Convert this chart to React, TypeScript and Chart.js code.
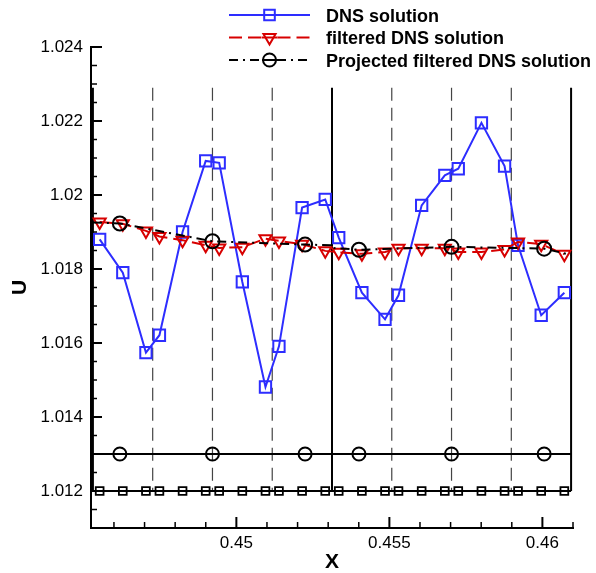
import React, { useEffect, useRef } from 'react';
import { Chart, registerables } from 'chart.js';

Chart.register(...registerables);

// ---- data ----
const dnsX = [0.445533, 0.446289, 0.447045, 0.447486, 0.448242, 0.448998, 0.449439, 0.450195, 0.450951, 0.451392, 0.452148, 0.452904, 0.453345, 0.454102, 0.454858, 0.455298, 0.456055, 0.456811, 0.457251, 0.458008, 0.458764, 0.459204, 0.459961, 0.460717];
const dnsU = [1.0188, 1.0179, 1.01574, 1.01621, 1.019, 1.02092, 1.02087, 1.01765, 1.01481, 1.01591, 1.01966, 1.01988, 1.01885, 1.01736, 1.01664, 1.01729, 1.01972, 1.02053, 1.02071, 1.02195, 1.02078, 1.01864, 1.01675, 1.01736];
const filteredU = [1.01927, 1.01922, 1.01903, 1.01888, 1.01878, 1.01864, 1.01857, 1.01859, 1.01882, 1.01876, 1.01867, 1.01849, 1.01845, 1.01841, 1.01846, 1.01856, 1.01856, 1.01856, 1.01846, 1.01846, 1.01853, 1.01873, 1.01867, 1.0184];
const projX = [0.4453125, 0.446193, 0.449219, 0.452245, 0.453125, 0.453125, 0.454006, 0.457031, 0.460057, 0.4609375];
const projU = [1.01926, 1.01923, 1.01875, 1.01866, 1.01864, 1.01857, 1.01852, 1.0186, 1.01855, 1.01838];
const projMarker = [false, true, true, true, false, false, true, true, true, false];
const gaussX = [0.446193, 0.449219, 0.452245, 0.454006, 0.457031, 0.460057];
const elementEdges = [0.4453125, 0.453125, 0.4609375];
const subEdges = [0.447266, 0.449219, 0.451172, 0.455078, 0.457031, 0.458984];
const dnsRowU = 1.012;
const gaussRowU = 1.013;
const meshTopU = 1.0229;
const meshBottomU = 1.012;

const xMin = 0.44525;
const xMax = 0.461;
const yMin = 1.011;
const yMax = 1.024;
const xTicks = [0.45, 0.455, 0.46];
const xMinorTicks = [0.446, 0.447, 0.448, 0.449, 0.451, 0.452, 0.453, 0.454, 0.456, 0.457, 0.458, 0.459, 0.461];
const yTicks = [1.012, 1.014, 1.016, 1.018, 1.02, 1.022, 1.024];
const yMinorTicks = [1.0115, 1.0125, 1.013, 1.0135, 1.0145, 1.015, 1.0155, 1.0165, 1.017, 1.0175, 1.0185, 1.019, 1.0195, 1.0205, 1.021, 1.0215, 1.0225, 1.023, 1.0235];

const legendLabels = ['DNS solution', 'filtered DNS solution', 'Projected filtered DNS solution'];

const BLUE = 'rgb(45,45,255)';
const RED = 'rgb(215,0,0)';
const BLACK = '#000';
const FONT = '"Liberation Sans", Arial, Helvetica, sans-serif';

function drawMarker(ctx: CanvasRenderingContext2D, style: string, x: number, y: number, r: number) {
  ctx.beginPath();
  if (style === 'rect') {
    const s = r * Math.SQRT1_2;
    ctx.rect(x - s, y - s, 2 * s, 2 * s);
  } else if (style === 'tri') {
    const h = r * 1.5;
    const w = r * Math.sqrt(3) / 2;
    ctx.moveTo(x - w, y - h / 3);
    ctx.lineTo(x + w, y - h / 3);
    ctx.lineTo(x, y + (2 * h) / 3);
    ctx.closePath();
  } else {
    ctx.arc(x, y, r, 0, Math.PI * 2);
  }
  ctx.stroke();
}

const axisPlugin = {
  id: 'inwardTicksAndLegend',
  afterDraw(chart: any) {
    const ctx: CanvasRenderingContext2D = chart.ctx;
    const { left, bottom } = chart.chartArea;
    const xs = chart.scales.x;
    const ys = chart.scales.y;
    ctx.save();
    ctx.strokeStyle = '#000';
    ctx.setLineDash([]);
    // x ticks (inward, upward)
    ctx.lineWidth = 2;
    xTicks.forEach((v) => {
      const px = xs.getPixelForValue(v);
      ctx.beginPath();
      ctx.moveTo(px, bottom);
      ctx.lineTo(px, bottom - 11);
      ctx.stroke();
    });
    ctx.lineWidth = 1.5;
    xMinorTicks.forEach((v) => {
      const px = xs.getPixelForValue(v);
      ctx.beginPath();
      ctx.moveTo(px, bottom);
      ctx.lineTo(px, bottom - 6);
      ctx.stroke();
    });
    // y ticks (inward, rightward)
    ctx.lineWidth = 2;
    yTicks.forEach((v) => {
      const py = ys.getPixelForValue(v);
      ctx.beginPath();
      ctx.moveTo(left, py);
      ctx.lineTo(left + 11, py);
      ctx.stroke();
    });
    ctx.lineWidth = 1.5;
    yMinorTicks.forEach((v) => {
      const py = ys.getPixelForValue(v);
      ctx.beginPath();
      ctx.moveTo(left, py);
      ctx.lineTo(left + 6, py);
      ctx.stroke();
    });

    // legend
    const entries = [
      { color: BLUE, dash: [] as number[], style: 'rect', r: 7.5, y: 15 },
      { color: RED, dash: [13, 6], style: 'tri', r: 7, y: 37.5 },
      { color: BLACK, dash: [9, 5, 2, 5], style: 'circ', r: 6.5, y: 60 },
    ];
    const x0 = 229;
    const x1 = 310;
    const xm = 269.5;
    entries.forEach((e, i) => {
      ctx.strokeStyle = e.color;
      ctx.lineWidth = 2;
      ctx.setLineDash(e.dash);
      ctx.beginPath();
      ctx.moveTo(x0, e.y);
      ctx.lineTo(xm - e.r - 1, e.y);
      ctx.stroke();
      ctx.beginPath();
      ctx.moveTo(xm + e.r + 1, e.y);
      ctx.lineTo(x1, e.y);
      ctx.stroke();
      ctx.setLineDash([]);
      ctx.beginPath();
      ctx.moveTo(xm - e.r - 1, e.y);
      ctx.lineTo(xm + e.r + 1, e.y);
      ctx.stroke();
      drawMarker(ctx, e.style, xm, e.y, e.r);
      ctx.fillStyle = '#000';
      ctx.font = `bold 18px ${FONT}`;
      ctx.textAlign = 'left';
      ctx.textBaseline = 'alphabetic';
      ctx.fillText(legendLabels[i], 326, e.y + 6.5);
    });
    ctx.restore();
  },
};

function meshLine(x: number, dashed: boolean) {
  return {
    label: 'mesh',
    data: [
      { x, y: meshTopU },
      { x, y: meshBottomU },
    ],
    borderColor: dashed ? '#444' : '#000',
    borderWidth: dashed ? 1.2 : 2,
    borderDash: dashed ? [13, 7] : [],
    pointRadius: 0,
    order: 10,
  };
}

export default function App() {
  const ref = useRef<HTMLCanvasElement>(null);
  useEffect(() => {
    if (!ref.current) return;
    const datasets: any[] = [];
    elementEdges.forEach((x) => datasets.push(meshLine(x, false)));
    subEdges.forEach((x) => datasets.push(meshLine(x, true)));

    datasets.push({
      label: 'DNS row',
      data: [{ x: elementEdges[0], y: dnsRowU }, ...dnsX.map((x) => ({ x, y: dnsRowU })), { x: elementEdges[2], y: dnsRowU }],
      borderColor: BLACK,
      borderWidth: 2,
      pointStyle: 'rect',
      pointRadius: [0, ...dnsX.map(() => 5.5), 0],
      pointBorderWidth: 1.8,
      pointBorderColor: BLACK,
      pointBackgroundColor: 'rgba(0,0,0,0)',
      order: 6,
    });
    datasets.push({
      label: 'Gauss row',
      data: [{ x: elementEdges[0], y: gaussRowU }, ...gaussX.map((x) => ({ x, y: gaussRowU })), { x: elementEdges[2], y: gaussRowU }],
      borderColor: BLACK,
      borderWidth: 2,
      pointStyle: 'circle',
      pointRadius: [0, ...gaussX.map(() => 6.5), 0],
      pointBorderWidth: 2,
      pointBorderColor: BLACK,
      pointBackgroundColor: 'rgba(0,0,0,0)',
      order: 6,
    });
    datasets.push({
      label: legendLabels[0],
      data: dnsX.map((x, i) => ({ x, y: dnsU[i] })),
      borderColor: BLUE,
      borderWidth: 2,
      pointStyle: 'rect',
      pointRadius: 8,
      pointBorderWidth: 2,
      pointBorderColor: BLUE,
      pointBackgroundColor: 'rgba(0,0,0,0)',
      order: 3,
    });
    datasets.push({
      label: legendLabels[1],
      data: dnsX.map((x, i) => ({ x, y: filteredU[i] })),
      borderColor: RED,
      borderWidth: 2,
      borderDash: [13, 6],
      pointStyle: 'triangle',
      pointRotation: 180,
      pointRadius: 7,
      pointBorderWidth: 2,
      pointBorderColor: RED,
      pointBackgroundColor: 'rgba(0,0,0,0)',
      order: 2,
    });
    datasets.push({
      label: legendLabels[2],
      data: projX.map((x, i) => ({ x, y: projU[i] })),
      borderColor: BLACK,
      borderWidth: 2,
      borderDash: [9, 5, 2, 5],
      pointStyle: 'circle',
      pointRadius: projMarker.map((m) => (m ? 7 : 0)),
      pointBorderWidth: 2,
      pointBorderColor: BLACK,
      pointBackgroundColor: 'rgba(0,0,0,0)',
      order: 1,
    });

    const chart = new Chart(ref.current, {
      type: 'line',
      data: { datasets },
      plugins: [axisPlugin],
      options: {
        responsive: false,
        animation: false,
        events: [],
        layout: { padding: { top: 47, right: 23, left: 0, bottom: 0 } },
        elements: { line: { tension: 0 } },
        plugins: { legend: { display: false }, tooltip: { enabled: false }, title: { display: false } },
        scales: {
          x: {
            type: 'linear',
            min: xMin,
            max: xMax,
            afterFit: (s: any) => { s.height = 45; },
            afterBuildTicks: (s: any) => { s.ticks = xTicks.map((v) => ({ value: v })); },
            grid: { display: true, drawOnChartArea: false, drawTicks: false, lineWidth: 2, color: '#000' },
            border: { display: true, color: '#000', width: 2 },
            ticks: {
              color: '#000',
              font: { family: FONT, size: 17 },
              padding: 5,
              maxRotation: 0,
              callback: (v: any) => String(v),
            },
            title: {
              display: true,
              text: 'X',
              color: '#000',
              font: { family: FONT, size: 21, weight: 'bold', lineHeight: 1 },
              padding: { top: 3, bottom: 0 },
            },
          },
          y: {
            type: 'linear',
            min: yMin,
            max: yMax,
            afterFit: (s: any) => { s.width = 91; },
            afterBuildTicks: (s: any) => { s.ticks = yTicks.map((v) => ({ value: v })); },
            grid: { display: true, drawOnChartArea: false, drawTicks: false, lineWidth: 2, color: '#000' },
            border: { display: true, color: '#000', width: 2 },
            ticks: {
              color: '#000',
              font: { family: FONT, size: 17 },
              padding: 8,
              callback: (v: any) => String(v),
            },
            title: {
              display: true,
              text: 'U',
              color: '#000',
              font: { family: FONT, size: 21, weight: 'bold', lineHeight: 1 },
              padding: { top: 10, bottom: 0 },
            },
          },
        },
      } as any,
    });
    return () => chart.destroy();
  }, []);

  return (
    <div style={{ position: 'fixed', left: 0, top: 0, width: 596, height: 573, background: '#fff' }}>
      <canvas ref={ref} width={596} height={573} style={{ display: 'block' }} />
    </div>
  );
}
